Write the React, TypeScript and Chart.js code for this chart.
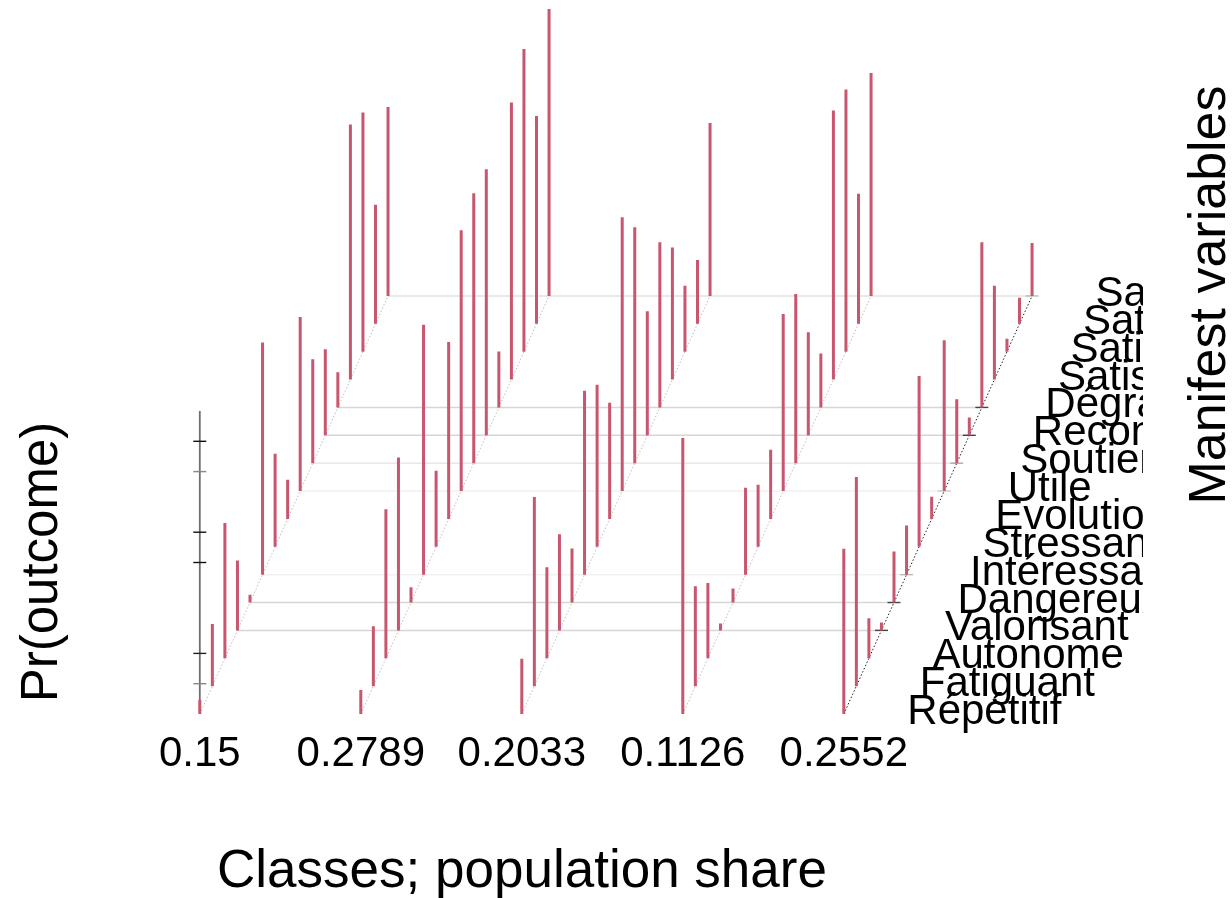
import React, { useEffect, useRef } from "react";
import { Chart, registerables } from "chart.js";

Chart.register(...registerables);

const classShares = ["0.15", "0.2789", "0.2033", "0.1126", "0.2552"];
const variables = [
  "Répétitif", "Fatiguant", "Autonome", "Valorisant", "Dangereux", "Intéressant", "Stressant", "Evolution",
  "Utile", "Soutien", "Reconnaissance", "Dégradant", "Satisfaction", "Satisfaction", "Satisfaction", "Satisfaction",
];
const class1 = [.046, .205, .446, .231, .026, .766, .307, .129, .574, .343, .284, .116, .842, .789, .393, .624];
const class2 = [.079, .198, .492, .571, .05, .825, .251, .584, .861, .891, .878, .185, .914, .999, .686, .947];
const class3 = [.182, .624, .3, .317, .178, .607, .535, .383, .904, .779, .409, .545, .436, .218, .211, .571];
const class4 = [.911, .33, .248, .023, .046, .287, .205, .228, .584, .558, .34, .178, .888, .865, .429, .736];
const class5 = [.545, .69, .132, .026, .168, .162, .564, .073, .498, .211, .059, .545, .31, .043, .086, .175];
const classValues = [class1, class2, class3, class4, class5];
const zTicks = [0.9, 0.8, 0.6, 0.5, 0.2, 0.1];
const gridRows = [3, 4, 5, 8, 9, 10, 11, 15];

// projection of the pseudo-3D plot
const PX_X = 161; // px per class
const PX_Y = 303; // px per unit probability
const ORIGIN_X = 199.8;
const ORIGIN_Y = 714;
const AREA_BOTTOM = 720;
const STEP_X = 12.55 / PX_X;
const STEP_Y = 27.87 / PX_Y;
const TICK_X = 6.5 / PX_X;
const BAR = "#c8566f";

const gridColor: Record<number, string> = { 3: "#d6d6d6", 4: "#d6d6d6", 5: "#f1f1f1", 8: "#f1f1f1", 9: "#e8e8e8", 10: "#d6d6d6", 11: "#d6d6d6", 15: "#e2e2e2" };
const tickColor: Record<number, string> = { 3: "#444", 4: "#444", 5: "#bbb", 8: "#ccc", 9: "#aaa", 10: "#444", 11: "#444", 15: "#bbb" };
const zTickColor = ["#111", "#888", "#111", "#111", "#222", "#888"];

const line = (data: any[], color: string, width: number, dash?: number[]) => ({
  type: "scatter" as const,
  data,
  showLine: true,
  pointRadius: 0,
  borderColor: color,
  backgroundColor: color,
  borderWidth: width,
  borderDash: dash || [],
  borderCapStyle: "butt" as const,
  spanGaps: false,
});

const textPlugin = {
  id: "texts",
  afterDraw(chart: any) {
    const { ctx, scales } = chart;
    const x0 = scales.x.getPixelForValue(0);
    const y0 = scales.y.getPixelForValue(0);
    const dx = scales.x.getPixelForValue(STEP_X) - x0;
    const dy = scales.y.getPixelForValue(STEP_Y) - y0;
    ctx.save();
    ctx.fillStyle = "#000";
    ctx.textBaseline = "alphabetic";
    ctx.save();
    ctx.beginPath();
    ctx.rect(0, 0, 1143, 898);
    ctx.clip();
    ctx.font = '42px "Liberation Sans"';
    ctx.textAlign = "left";
    variables.forEach((v, k) => ctx.fillText(v, x0 + 707.5 + k * dx, y0 + 10 + k * dy));
    ctx.restore();
    ctx.font = '53px "Liberation Sans"';
    ctx.textAlign = "center";
    ctx.fillText("Classes; population share", 522, 887);
    ctx.save();
    ctx.font = '51px "Liberation Sans"';
    ctx.translate(56.5, 562);
    ctx.rotate(-Math.PI / 2);
    ctx.fillText("Pr(outcome)", 0, 0);
    ctx.restore();
    ctx.font = '52px "Liberation Sans"';
    ctx.translate(1225, 295);
    ctx.rotate(-Math.PI / 2);
    ctx.fillText("Manifest variables", 0, 0);
    ctx.restore();
  },
};

export default function App() {
  const ref = useRef<HTMLCanvasElement>(null);
  useEffect(() => {
    const datasets: any[] = [];
    classValues.forEach((vals) => {
      const c = classValues.indexOf(vals);
      const pts: any[] = [];
      vals.forEach((p, k) => {
        const x = c + k * STEP_X;
        pts.push({ x, y: k * STEP_Y }, { x, y: k * STEP_Y + p }, { x, y: null });
      });
      datasets.push(line(pts, BAR, 3));
    });
    // outer-edge row ticks
    gridRows.forEach((k) => {
      const x = 4 + k * STEP_X;
      const y = k * STEP_Y;
      datasets.push(line([{ x: x - TICK_X, y }, { x: x + TICK_X, y }], tickColor[k], 1.4));
    });
    // floor edges
    classShares.forEach((_, c) => {
      datasets.push(
        line(
          [{ x: c, y: 0 }, { x: c + 15 * STEP_X, y: 15 * STEP_Y }],
          c === 4 ? "#222" : "#bdbdbd",
          1,
          [1.5, 2]
        )
      );
    });
    // floor rows
    gridRows.forEach((k) => {
      const y = k * STEP_Y;
      datasets.push(line([{ x: k * STEP_X, y }, { x: 4 + k * STEP_X, y }], gridColor[k], 1.5));
    });
    // vertical axis
    zTicks.forEach((z, i) => {
      datasets.push(line([{ x: -TICK_X, y: z }, { x: TICK_X, y: z }], zTickColor[i], 1.4));
    });
    datasets.push(line([{ x: 0, y: 0 }, { x: 0, y: 1 }], "#6f6f6f", 1.8));

    const chart = new Chart(ref.current!, {
      type: "scatter",
      data: { datasets },
      plugins: [textPlugin],
      options: {
        animation: false,
        responsive: false,
        devicePixelRatio: 1,
        layout: { padding: 0 },
        plugins: { legend: { display: false }, tooltip: { enabled: false } },
        scales: {
          x: {
            type: "linear",
            min: -ORIGIN_X / PX_X,
            max: (1232 - ORIGIN_X) / PX_X,
            grid: { display: false, drawTicks: false },
            border: { display: false },
            afterBuildTicks: (s: any) => {
              s.ticks = classShares.map((_, i) => ({ value: i }));
            },
            afterFit: (s: any) => {
              s.height = 898 - AREA_BOTTOM;
            },
            ticks: {
              autoSkip: false,
              maxRotation: 0,
              padding: 9,
              color: "#000",
              font: { family: '"Liberation Sans"', size: 42 },
              callback: (v: any) => classShares[v],
            },
          },
          y: {
            type: "linear",
            display: false,
            min: (ORIGIN_Y - AREA_BOTTOM) / PX_Y,
            max: ORIGIN_Y / PX_Y,
          },
        },
      } as any,
    });
    return () => chart.destroy();
  }, []);
  return (
    <canvas
      ref={ref}
      width={1232}
      height={898}
      style={{ position: "absolute", left: 0, top: 0, display: "block", width: 1232, height: 898 }}
    />
  );
}
